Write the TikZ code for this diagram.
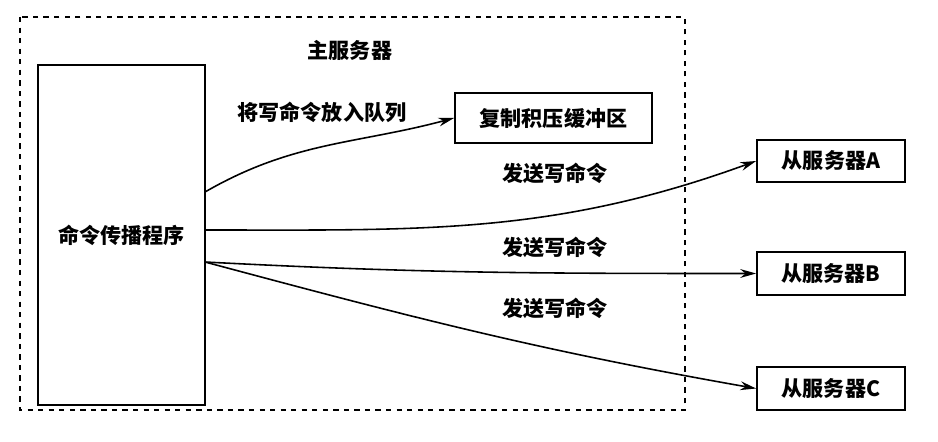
\documentclass[tikz,border=0pt]{standalone}
\usepackage{fontspec}
\newfontfamily\cjk{Noto Sans CJK SC}
\usetikzlibrary{arrows.meta}
\tikzset{
  box/.style={draw, line width=1pt, font=\cjk\bfseries\large, inner sep=0pt},
  lbl/.style={font=\cjk\bfseries\large},
  feed/.style={-{Stealth[length=9pt,width=5pt]}, line width=0.9pt}
}
\begin{document}
\begin{tikzpicture}[x=0.02cm,y=-0.02cm]
        \useasboundingbox (0,0) rectangle (938,442);
        % master
        \draw[dashed, line width=0.8pt] (20,17) rectangle (685,410);
        \node[lbl] (master) at (350,50) {主服务器};
        \node[box, minimum width=167*0.02cm, minimum height=340*0.02cm] (prop) at (121.5,235) {命令传播程序};
        \node[box, minimum width=197*0.02cm, minimum height=50*0.02cm] (buf) at (553.5,118) {复制积压缓冲区};

        % slaves
        \node[box, minimum width=148*0.02cm, minimum height=42*0.02cm] (sa) at (831,161) {从服务器A};
        \node[box, minimum width=148*0.02cm, minimum height=43*0.02cm] (sb) at (831,273.5) {从服务器B};
        \node[box, minimum width=148*0.02cm, minimum height=43*0.02cm] (sc) at (831,388.5) {从服务器C};

        \coordinate (p1) at (205,192);
        \coordinate (p2) at (205,230);
        \coordinate (p3) at (205,262);
        \draw[feed] (p1) to[out=30,in=195] (buf.west);
        \draw[feed] (p2) to[out=0,in=200] (sa.west);
        \draw[feed] (p3) to[out=-3,in=180] (sb.west);
        \draw[feed] (p3) to[out=-15,in=170] (sc.west);

        \node[lbl] (l0) at (322,112) {将写命令放入队列};
        \node[lbl] (l1) at (555,173) {发送写命令};
        \node[lbl] (l2) at (555,247) {发送写命令};
        \node[lbl] (l3) at (555,308) {发送写命令};
\end{tikzpicture}
\end{document}
